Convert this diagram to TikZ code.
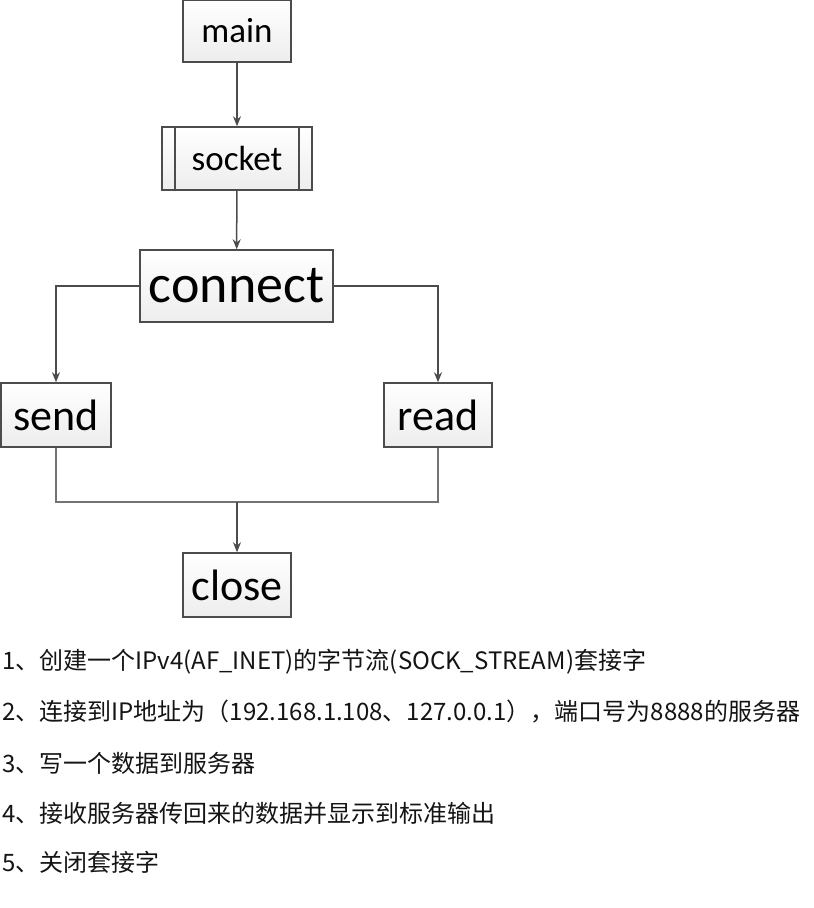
\documentclass[tikz,border=0pt]{standalone}
\usepackage{fontspec}
\newfontfamily\boxfont{Carlito}
\newfontfamily\cjk{Noto Sans CJK SC}
\usetikzlibrary{arrows.meta, positioning}

\begin{document}
\begin{tikzpicture}[
  x=1pt, y=1pt,
  box/.style={rectangle, draw=black!70, line width=1.5pt,
              top color=white, bottom color=gray!14,
              inner sep=0pt, minimum width=108pt, minimum height=64pt,
              text=black},
  procbox/.style={box, minimum width=150pt, minimum height=63pt,
                  path picture={
                    \draw[black!70, line width=1.5pt]
                      ([xshift=13pt]path picture bounding box.north west) --
                      ([xshift=13pt]path picture bounding box.south west);
                    \draw[black!70, line width=1.5pt]
                      ([xshift=-13pt]path picture bounding box.north east) --
                      ([xshift=-13pt]path picture bounding box.south east);}},
  fsmall/.style={font=\boxfont\fontsize{35}{42}\selectfont},
  fmid/.style={font=\boxfont\fontsize{44}{52}\selectfont},
  fbig/.style={font=\boxfont\fontsize{54}{64}\selectfont},
  arr/.style={-{Stealth[length=10pt, width=8pt]}, draw=black!70, line width=1.5pt},
  line/.style={draw=black!55, line width=1.5pt},
  steptxt/.style={anchor=west, inner sep=0pt, text=black!92,
                  font=\cjk\fontsize{24}{29}\selectfont}
]
\useasboundingbox (0,0) rectangle (814,-908);

% flow chart
\node[box, fsmall, minimum height=62pt] (main) at (237,-31) {main};
\node[procbox, fsmall] (socket) at (237,-158.5) {socket};
\node[box, fbig, minimum width=193pt, minimum height=72pt] (conn) at (236.5,-286) {connect};
\node[box, fmid, minimum width=110pt] (send) at (56,-415) {send};
\node[box, fmid] (read) at (438,-415) {read};
\node[box, fmid] (close) at (237,-585) {close};
\coordinate (join) at (237,-502);

\draw[arr] (main) -- (socket);
\draw[arr] (socket) -- (conn);
\draw[arr] (conn.west) -| (send.north);
\draw[arr] (conn.east) -| (read.north);
\draw[line] (send.south) |- (join) -| (read.south);
\draw[arr] (join) -- (close.north);

% steps
\node[steptxt] (s1) at (2,-662) {1、创建一个IPv4(AF\_INET)的字节流(SOCK\_STREAM)套接字};
\node[steptxt] (s2) at (2,-712) {2、连接到IP地址为（192.168.1.108、127.0.0.1），端口号为8888的服务器};
\node[steptxt] (s3) at (2,-763) {3、写一个数据到服务器};
\node[steptxt] (s4) at (2,-813) {4、接收服务器传回来的数据并显示到标准输出};
\node[steptxt] (s5) at (2,-862) {5、关闭套接字};

\end{tikzpicture}
\end{document}
